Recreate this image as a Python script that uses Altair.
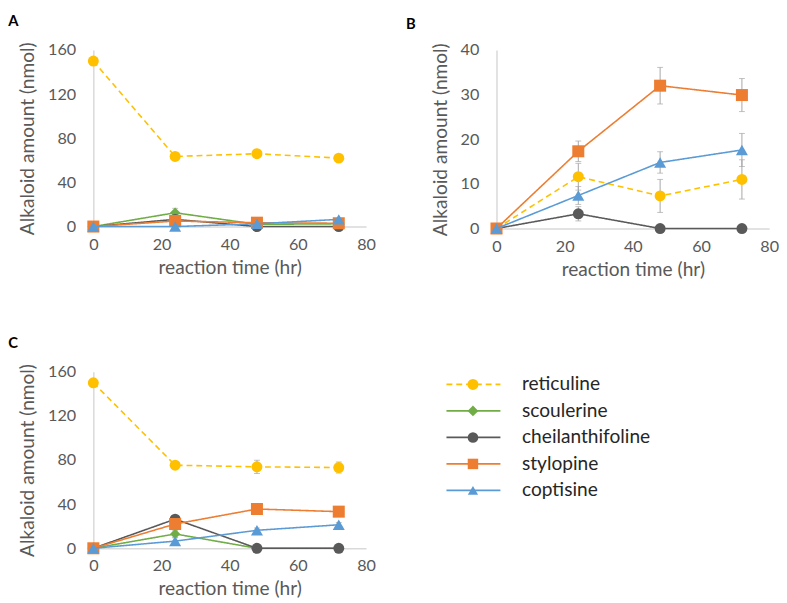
import altair as alt
import pandas as pd

FONT = "Lato"

times = [0, 24, 48, 72]
compounds = ["reticuline", "scoulerine", "cheilanthifoline", "stylopine", "coptisine"]
colors = ["#FFC000", "#70AD47", "#595959", "#ED7D31", "#5B9BD5"]
shapes = ["circle", "diamond", "circle", "square", "triangle-up"]
sizes = [125, 110, 125, 150, 150]

# Panel A values / errors
a_reticuline = [150, 63.5, 66, 62]
a_scoulerine = [0, 12.5, 2, 2.5]
a_cheilanthifoline = [0, 6.5, 0, 0]
a_stylopine = [0, 5, 3.5, 3]
a_coptisine = [0, 0, 2.5, 6.5]
a_err_reticuline = [0, 0, 0, 0]
a_err_scoulerine = [0, 4, 0, 0]
a_err_cheilanthifoline = [0, 0, 0, 0]
a_err_stylopine = [0, 0, 0, 0]
a_err_coptisine = [0, 0, 0, 0]

# Panel B values / errors
b_reticuline = [0, 11.6, 7.3, 11.0]
b_cheilanthifoline = [0, 3.3, 0, 0]
b_stylopine = [0, 17.3, 32.0, 29.9]
b_coptisine = [0, 7.4, 14.8, 17.6]
b_err_reticuline = [0, 3.0, 3.7, 4.4]
b_err_cheilanthifoline = [0, 1.6, 0, 0]
b_err_stylopine = [0, 2.3, 4.1, 3.7]
b_err_coptisine = [0, 2.0, 2.4, 3.7]

# Panel C values / errors
c_reticuline = [150, 75.3, 73.8, 73.2]
c_scoulerine = [0, 13, 0, 0]
c_cheilanthifoline = [0, 26.4, 0, 0]
c_stylopine = [0, 22, 35.6, 33.2]
c_coptisine = [0, 6.5, 16.3, 21.3]
c_err_reticuline = [0, 2, 6, 5]
c_err_scoulerine = [0, 3, 0, 0]
c_err_cheilanthifoline = [0, 2, 0, 0]
c_err_stylopine = [0, 3, 4, 2]
c_err_coptisine = [0, 3, 2, 2]

panels = {
    "A": {
        "reticuline": (a_reticuline, a_err_reticuline),
        "scoulerine": (a_scoulerine, a_err_scoulerine),
        "cheilanthifoline": (a_cheilanthifoline, a_err_cheilanthifoline),
        "stylopine": (a_stylopine, a_err_stylopine),
        "coptisine": (a_coptisine, a_err_coptisine),
    },
    "B": {
        "reticuline": (b_reticuline, b_err_reticuline),
        "cheilanthifoline": (b_cheilanthifoline, b_err_cheilanthifoline),
        "stylopine": (b_stylopine, b_err_stylopine),
        "coptisine": (b_coptisine, b_err_coptisine),
    },
    "C": {
        "reticuline": (c_reticuline, c_err_reticuline),
        "scoulerine": (c_scoulerine, c_err_scoulerine),
        "cheilanthifoline": (c_cheilanthifoline, c_err_cheilanthifoline),
        "stylopine": (c_stylopine, c_err_stylopine),
        "coptisine": (c_coptisine, c_err_coptisine),
    },
}

W = 278


def make_panel(letter, ymax, ystep, dx, h, off):
    xs = alt.X("time:Q", scale=alt.Scale(domain=[0, 80], nice=False, padding=0),
               axis=alt.Axis(values=[0, 20, 40, 60, 80], title="reaction time (hr)"))
    ys = alt.Y("value:Q", scale=alt.Scale(domain=[0, ymax], nice=False, padding=0),
               axis=alt.Axis(values=list(range(0, ymax + 1, ystep)),
                             title="Alkaloid amount (nmol)"))
    layers = []
    for i, c in enumerate(compounds):
        if c not in panels[letter]:
            continue
        vals, errs = panels[letter][c]
        df = pd.DataFrame({"time": times, "value": vals, "err": errs})
        df["lo"] = df["value"] - df["err"]
        df["hi"] = df["value"] + df["err"]
        dfe = df[df["err"] > 0]
        if len(dfe):
            eb = alt.Chart(dfe)
            layers.append(eb.mark_rule(color="#A6A6A6", strokeWidth=1).encode(
                x=xs, y=alt.Y("lo:Q"), y2="hi:Q"))
            layers.append(eb.mark_tick(color="#A6A6A6", orient="horizontal",
                                       size=6, thickness=1).encode(x=xs, y=alt.Y("lo:Q")))
            layers.append(eb.mark_tick(color="#A6A6A6", orient="horizontal",
                                       size=6, thickness=1).encode(x=xs, y=alt.Y("hi:Q")))
        base = alt.Chart(df).encode(x=xs, y=ys)
        dash = [6, 4] if c == "reticuline" else [1, 0]
        layers.append(base.mark_line(color=colors[i], strokeWidth=1.6, strokeDash=dash))
        layers.append(base.mark_point(filled=True, shape=shapes[i], size=sizes[i],
                                      color=colors[i], opacity=1))
    return alt.layer(*layers).properties(
        width=W, height=h,
        title=alt.TitleParams(letter, anchor="start", frame="bounds", fontSize=15,
                              fontWeight="bold", color="black", font=FONT,
                              offset=off, dx=dx),
    )


pA = make_panel("A", 160, 40, -10, 180, 13)
pB = make_panel("B", 40, 10, -25, 182, 10)
pC = make_panel("C", 160, 40, -10, 180, 13)

leg_df = pd.DataFrame({"compound": compounds})
ly = alt.Y("compound:N", sort=compounds, axis=None,
           scale=alt.Scale(domain=compounds, range=[13, 121], type="point", padding=0))
lcol = alt.Color("compound:N", scale=alt.Scale(domain=compounds, range=colors), legend=None)
lg = alt.Chart(leg_df)
leg_line = lg.mark_rule(strokeWidth=1.8).encode(
    y=ly, x=alt.value(20), x2=alt.value(75), color=lcol,
    strokeDash=alt.StrokeDash("compound:N", scale=alt.Scale(
        domain=compounds, range=[[6, 4], [1, 0], [1, 0], [1, 0], [1, 0]]), legend=None))
leg_pt = lg.mark_point(filled=True, opacity=1).encode(
    y=ly, x=alt.value(47), color=lcol,
    shape=alt.Shape("compound:N", scale=alt.Scale(domain=compounds, range=shapes), legend=None),
    size=alt.Size("compound:N", scale=alt.Scale(domain=compounds, range=sizes), legend=None))
leg_txt = lg.mark_text(align="left", baseline="middle", fontSize=19.5, font=FONT,
                       color="#262626").encode(y=ly, x=alt.value(97), text="compound:N")
legend = alt.layer(leg_line, leg_pt, leg_txt).properties(width=250, height=180)

chart = alt.vconcat(
    alt.hconcat(pA, pB, spacing=30),
    alt.hconcat(pC, legend, spacing=52),
    spacing=58,
).properties(background="white",
             padding={"left": 0, "top": 0, "right": 0, "bottom": 0}
             ).configure_view(stroke=None).configure_axis(
    grid=False, ticks=False, domainColor="#D9D9D9", domainWidth=1.5,
    labelColor="#595959", labelFontSize=16.5, labelFont=FONT, labelPadding=18,
    titleColor="#595959", titleFontSize=19.5, titleFont=FONT, titleFontWeight="normal",
    titlePadding=10, labelFlush=False,
).configure_axisX(labelPadding=10, titlePadding=6)

chart.save("out.html", embed_options={"renderer": "svg", "actions": False})
